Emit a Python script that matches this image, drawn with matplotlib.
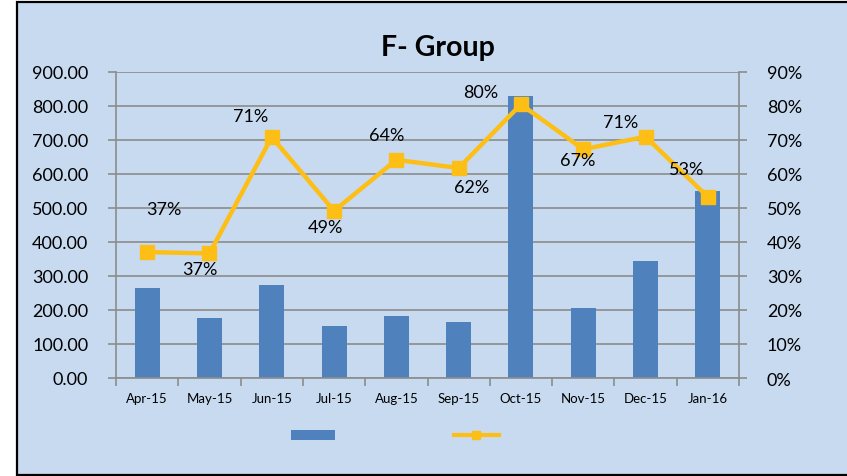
import matplotlib.pyplot as plt
from matplotlib.patches import Rectangle, Patch
from matplotlib.lines import Line2D
import numpy as np

# data
months = ['Apr-15', 'May-15', 'Jun-15', 'Jul-15', 'Aug-15',
          'Sep-15', 'Oct-15', 'Nov-15', 'Dec-15', 'Jan-16']
bar_values = [263, 177, 273, 154, 182, 165, 829, 206, 343, 549]
pct_values = [0.370, 0.366, 0.708, 0.491, 0.641, 0.617, 0.804, 0.672, 0.709, 0.532]

# label offsets (pixels) relative to each marker
label_offsets = [(17, 43), (-10, -16), (-21, 21), (-9, -16), (-10, 25),
                 (13, -19), (-40, 12), (-6, -11), (-25, 15), (-21, 28)]

BG = '#C8DAF0'
BAR = '#4F81BD'
LINE = '#FDBF16'
GRID = '#8C8C8C'

plt.rcParams['font.family'] = ['Lato', 'DejaVu Sans']

fig = plt.figure(figsize=(8.47, 4.77), dpi=100)
fig.patch.set_facecolor('white')

# chart area background with black frame
fig.patches.append(Rectangle((17 / 847, 1 / 477), 1.0, 473 / 477, transform=fig.transFigure,
                             facecolor=BG, edgecolor='black', linewidth=1.6, zorder=-10))

ax = fig.add_axes([116 / 847, 1 - 379 / 477, (739 - 116) / 847, (379 - 72.7) / 477])
ax.set_facecolor('none')
x = np.arange(len(months))
ax.bar(x, bar_values, width=0.4, color=BAR, zorder=2)

ax.set_ylim(0, 900)
ax.set_yticks(np.arange(0, 901, 100))
ax.set_yticklabels([f'{v:.2f}' for v in np.arange(0, 901, 100)], fontsize=13)
ax.yaxis.grid(True, color=GRID, linewidth=1.2, zorder=1)
ax.set_axisbelow(True)

ax.set_xlim(-0.5, len(months) - 0.5)
ax.set_xticks(x)
ax.set_xticklabels(months, fontsize=9.5)
ax.set_xticks(np.arange(-0.5, len(months)), minor=True)
ax.tick_params(axis='x', which='major', length=0, pad=10)
ax.tick_params(axis='x', which='minor', length=6, color=GRID, width=1.2)
ax.tick_params(axis='y', length=6, color=GRID, width=1.2, pad=14)

for s in ['top', 'right']:
    ax.spines[s].set_visible(False)
for s in ['left', 'bottom']:
    ax.spines[s].set_color(GRID)
    ax.spines[s].set_linewidth(1.2)

ax2 = ax.twinx()
ax2.plot(x, pct_values, color=LINE, linewidth=3.2, marker='s', markersize=10.5, zorder=3)
ax2.set_ylim(0, 0.9)
ax2.set_yticks(np.arange(0, 0.91, 0.1))
ax2.set_yticklabels([f'{v:.0%}' for v in np.arange(0, 0.91, 0.1)], fontsize=13)
ax2.tick_params(axis='y', length=6, color=GRID, width=1.2, pad=14)
for s in ['top', 'left', 'bottom']:
    ax2.spines[s].set_visible(False)
ax2.spines['right'].set_color(GRID)
ax2.spines['right'].set_linewidth(1.2)

for xi, v, off in zip(x, pct_values, label_offsets):
    ax2.annotate(f'{v:.0%}', (xi, v), xytext=off, textcoords='offset pixels',
                 ha='center', va='center', fontsize=13)

fig.text(438 / 847, 1 - 48 / 477, 'F- Group', ha='center', va='center',
         fontsize=20.5, fontweight='bold')

handles = [Patch(facecolor=BAR),
           Line2D([], [], color=LINE, linewidth=3, marker='s', markersize=6)]
fig.legend(handles, [' ', ' '], ncol=2, loc='center',
           bbox_to_anchor=(402 / 847, 1 - 437 / 477), frameon=False,
           fontsize=10, handlelength=3.2, handleheight=0.7, columnspacing=7.5)

plt.savefig('out.png', dpi=100)
